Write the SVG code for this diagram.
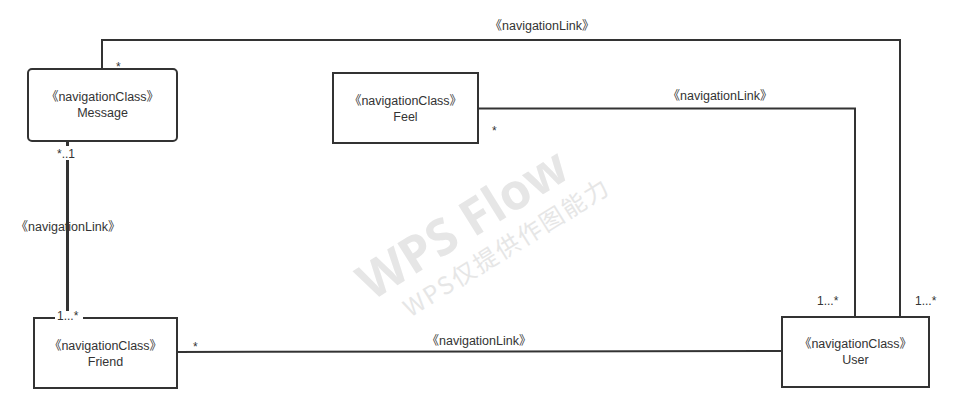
<svg xmlns="http://www.w3.org/2000/svg" width="963" height="414" viewBox="0 0 963 414">
<style>
.box{fill:#fff;stroke:#333;stroke-width:2}
.t{font-family:"Liberation Sans","Noto Sans CJK SC",sans-serif;font-size:12.5px;fill:#333;text-anchor:middle}
.m{font-family:"Liberation Sans","Noto Sans CJK SC",sans-serif;font-size:12px;fill:#333}
.c{fill:none;stroke:#333;stroke-width:2}
.wm{font-family:"Open Sans","Noto Sans CJK SC",sans-serif;fill:#e6e6e6;text-anchor:middle}
</style>
<rect width="963" height="414" fill="#fff"/>
<g id="watermark" transform="rotate(-32 490 230)">
<text class="wm" x="470" y="228" font-size="50" font-weight="bold">WPS Flow</text>
<text class="wm" x="495" y="262" font-size="24" style="font-family:'Noto Sans CJK SC',sans-serif;letter-spacing:2px">WPS仅提供作图能力</text>
</g>
<g id="connectors">
<polyline class="c" points="102,69 102,40 900,40 900,317"/>
<polyline class="c" points="478,108.5 855,108.5 855,317"/>
<line class="c" x1="67.5" y1="141" x2="67.5" y2="318" style="stroke-width:3"/>
<line class="c" x1="177" y1="352" x2="782" y2="351"/>
<text class="t" x="542" y="30">《navigationLink》</text>
<text class="t" x="720" y="100">《navigationLink》</text>
<text class="t" x="68" y="231">《navigationLink》</text>
<text class="t" x="479" y="345">《navigationLink》</text>
<text class="m" x="116" y="71">*</text>
<text class="m" x="492" y="135">*</text>
<text class="m" x="193" y="351">*</text>
<rect x="56" y="146" width="26" height="14" fill="#fff"/>
<text class="m" x="57" y="158">*..1</text>
<text class="m" x="817" y="305">1...*</text>
<text class="m" x="915" y="305">1...*</text>
</g>
<g id="Message">
<rect class="box" x="28" y="69" width="149" height="72" rx="4"/>
<text class="t" x="102.5" y="101">《navigationClass》</text>
<text class="t" x="102.5" y="117">Message</text>
</g>
<g id="Feel">
<rect class="box" x="333" y="73" width="145" height="70"/>
<text class="t" x="405.5" y="105">《navigationClass》</text>
<text class="t" x="405.5" y="121">Feel</text>
</g>
<g id="Friend">
<rect class="box" x="34" y="318" width="143" height="70"/>
<rect x="55" y="311" width="28" height="10" fill="#fff"/>
<text class="m" x="57" y="320">1...*</text>
<text class="t" x="105.5" y="350">《navigationClass》</text>
<text class="t" x="105.5" y="366">Friend</text>
</g>
<g id="User">
<rect class="box" x="782" y="317" width="147" height="70"/>
<text class="t" x="855.5" y="348">《navigationClass》</text>
<text class="t" x="855.5" y="364">User</text>
</g>
</svg>
